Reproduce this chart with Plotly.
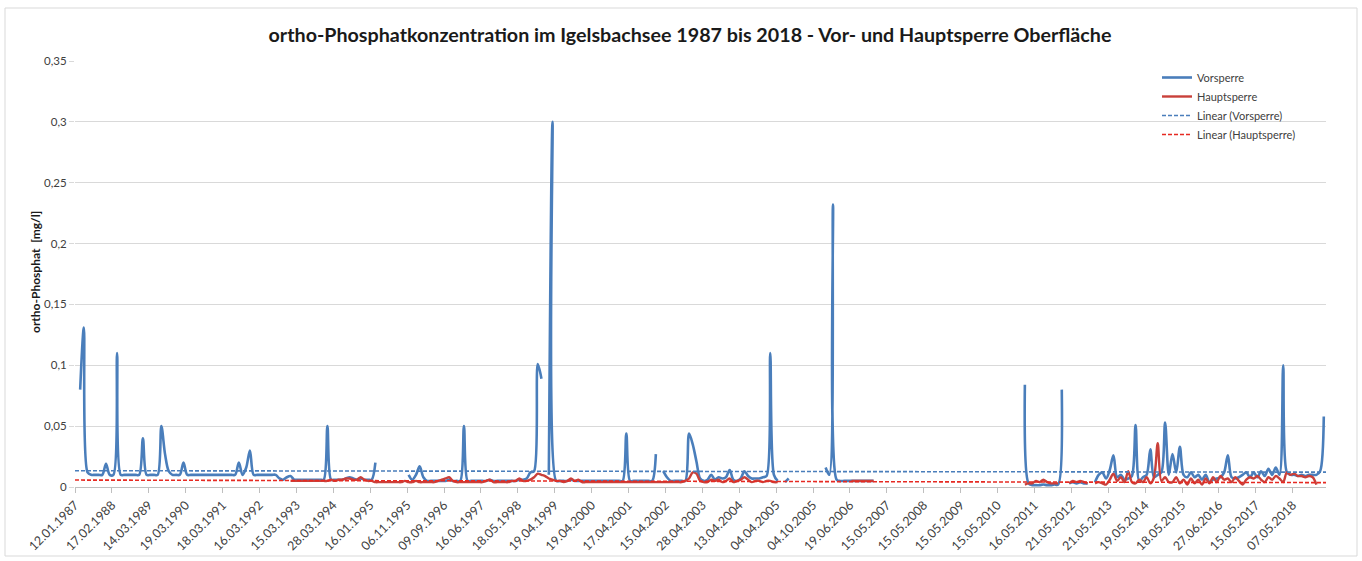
import plotly.graph_objects as go

# ---- data ----
tick_labels = ["12.01.1987", "17.02.1988", "14.03.1989", "19.03.1990", "18.03.1991",
               "16.03.1992", "15.03.1993", "28.03.1994", "16.01.1995", "06.11.1995",
               "09.09.1996", "16.06.1997", "18.05.1998", "19.04.1999", "19.04.2000",
               "17.04.2001", "15.04.2002", "28.04.2003", "13.04.2004", "04.04.2005",
               "04.10.2005", "19.06.2006", "15.05.2007", "15.05.2008", "15.05.2009",
               "15.05.2010", "16.05.2011", "21.05.2012", "21.05.2013", "19.05.2014",
               "18.05.2015", "27.06.2016", "15.05.2017", "07.05.2018"]
samples_per_label = 10

N = None
vorsperre = [
    0.08, 0.131, 0.012, 0.01, 0.01, 0.01, 0.01, 0.019, 0.01, 0.01,
    0.11, 0.01, 0.01, 0.01, 0.01, 0.01, 0.01, 0.04, 0.01, 0.01,
    0.01, 0.01, 0.05, 0.027, 0.013, 0.01, 0.01, 0.01, 0.02, 0.01,
    0.01, 0.01, 0.01, 0.01, 0.01, 0.01, 0.01, 0.01, 0.01, 0.01,
    0.01, 0.01, 0.01, 0.02, 0.01, 0.016, 0.03, 0.01, 0.01, 0.01,
    0.01, 0.01, 0.01, 0.01, 0.007, 0.006, 0.008, 0.009, 0.006, 0.006,
    0.006, 0.006, 0.006, 0.006, 0.006, 0.006, 0.006, 0.05, 0.006, 0.006,
    0.006, 0.006, 0.007, 0.008, 0.007, 0.006, 0.007, 0.006, 0.006, 0.006,
    0.02, N, N, N, N, N, N, N, N, 0.01,
    0.006, 0.01, 0.017, 0.008, 0.005, 0.005, 0.005, 0.005, 0.005, 0.005,
    0.006, 0.005, 0.005, 0.005, 0.05, 0.005, 0.005, 0.005, 0.005, 0.005,
    0.005, 0.006, 0.005, 0.005, 0.005, 0.005, 0.005, 0.005, 0.005, 0.006,
    0.006, 0.007, 0.012, 0.013, 0.101, 0.089, N, 0.01, 0.3, 0.005,
    0.005, 0.005, 0.005, 0.006, 0.005, 0.005, 0.005, 0.005, 0.005, 0.005,
    0.005, 0.005, 0.005, 0.005, 0.005, 0.005, 0.005, 0.005, 0.044, 0.005,
    0.005, 0.005, 0.005, 0.005, 0.005, 0.005, 0.027, N, 0.013, 0.008,
    0.005, 0.005, 0.005, 0.005, 0.005, 0.044, 0.035, 0.021, 0.007, 0.005,
    0.006, 0.01, 0.006, 0.008, 0.007, 0.008, 0.014, 0.006, 0.005, 0.007,
    0.013, 0.009, 0.007, 0.007, 0.007, 0.008, 0.009, 0.11, 0.01, 0.005,
    N, 0.004, 0.007, N, N, N, N, N, N, N,
    N, N, 0.016, 0.01, 0.232, 0.006, 0.005, 0.005, 0.005, 0.005,
    0.005, 0.005, 0.005, 0.005, 0.005, 0.005, N, N, N, N,
    N, N, N, N, N, N, N, N, N, N,
    N, N, N, N, N, N, N, N, N, N,
    N, N, N, N, N, N, N, N, N, N,
    N, N, N, N, N, N, 0.084, 0.003, 0.0015, 0.0015,
    0.0015, 0.002, 0.0015, 0.0015, 0.002, 0.002, 0.08, N, 0.003, 0.004,
    0.003, 0.004, 0.003, 0.003, N, 0.004, 0.01, 0.012, 0.007, 0.014,
    0.026, 0.008, 0.01, 0.006, 0.007, 0.009, 0.051, 0.005, 0.008, 0.01,
    0.031, 0.008, 0.01, 0.012, 0.053, 0.01, 0.027, 0.012, 0.033, 0.01,
    0.008, 0.012, 0.008, 0.01, 0.006, 0.01, 0.004, 0.006, 0.007, 0.008,
    0.012, 0.026, 0.008, 0.007, 0.008, 0.01, 0.012, 0.008, 0.012, 0.008,
    0.013, 0.009, 0.015, 0.01, 0.016, 0.01, 0.1, 0.012, 0.01, 0.01,
    0.009, 0.01, 0.009, 0.01, 0.01, 0.01, 0.013, 0.058,
]

hauptsperre = [
    N, N, N, N, N, N, N, N, N, N,
    N, N, N, N, N, N, N, N, N, N,
    N, N, N, N, N, N, N, N, N, N,
    N, N, N, N, N, N, N, N, N, N,
    N, N, N, N, N, N, N, N, N, N,
    N, N, N, N, N, N, N, 0.005, 0.005, 0.005,
    0.005, 0.005, 0.005, 0.005, 0.005, 0.005, 0.005, 0.005, 0.006, 0.005,
    0.006, 0.006, 0.007, 0.007, 0.006, 0.006, 0.008, 0.006, 0.005, 0.005,
    0.004, 0.004, 0.004, 0.004, 0.004, 0.004, 0.004, 0.004, 0.005, 0.004,
    0.004, 0.005, 0.004, 0.004, 0.004, 0.004, 0.004, 0.005, 0.006, 0.007,
    0.008, 0.005, 0.004, 0.004, 0.004, 0.004, 0.004, 0.004, 0.004, 0.004,
    0.005, 0.006, 0.004, 0.004, 0.004, 0.004, 0.004, 0.005, 0.005, 0.007,
    0.005, 0.005, 0.006, 0.008, 0.011, 0.010, 0.009, 0.007, 0.006, 0.005,
    0.005, 0.004, 0.005, 0.007, 0.005, 0.006, 0.004, 0.004, 0.004, 0.004,
    0.004, 0.004, 0.004, 0.004, 0.004, 0.004, 0.004, 0.004, 0.004, 0.004,
    0.004, 0.004, 0.004, 0.004, 0.004, 0.004, 0.004, 0.004, 0.004, 0.004,
    0.004, 0.004, 0.004, 0.004, 0.005, 0.007, 0.012, 0.011, 0.005, 0.004,
    0.004, 0.006, 0.005, 0.006, 0.004, 0.005, 0.007, 0.004, 0.005, 0.006,
    0.008, 0.006, 0.004, 0.005, 0.005, 0.004, 0.005, 0.005, 0.004, 0.004,
    N, N, N, N, N, N, N, N, N, N,
    N, N, N, N, N, N, N, N, N, 0.005,
    0.005, 0.005, 0.005, 0.005, 0.005, 0.005, N, N, N, N,
    N, N, N, N, N, N, N, N, N, N,
    N, N, N, N, N, N, N, N, N, N,
    N, N, N, N, N, N, N, N, N, N,
    N, N, N, N, N, N, 0.002, 0.003, 0.003, 0.005,
    0.004, 0.006, 0.004, 0.003, 0.003, 0.003, N, N, 0.003, 0.005,
    0.004, 0.005, 0.004, 0.003, N, 0.003, 0.004, 0.003, 0.002, 0.006,
    0.011, 0.005, 0.008, 0.004, 0.013, 0.004, 0.003, 0.006, 0.004, 0.008,
    0.003, 0.008, 0.036, 0.005, 0.008, 0.004, 0.004, 0.008, 0.003, 0.006,
    0.002, 0.007, 0.003, 0.006, 0.002, 0.007, 0.003, 0.008, 0.004, 0.009,
    0.006, 0.007, 0.004, 0.008, 0.005, 0.002, 0.006, 0.008, 0.007, 0.009,
    0.006, 0.004, 0.008, 0.006, 0.009, 0.007, 0.004, 0.012, 0.01, 0.011,
    0.009, 0.009, 0.008, 0.009, 0.008, 0.002, N, N,
]

# linear trend lines (start / end values)
trend_vorsperre = [0.0134, 0.0122]
trend_hauptsperre = [0.0057, 0.0036]

y_ticks = [0, 0.05, 0.1, 0.15, 0.2, 0.25, 0.3, 0.35]
y_tick_text = ["0", "0,05", "0,1", "0,15", "0,2", "0,25", "0,3", "0,35"]

# ---- figure ----
n = len(vorsperre)
idx = list(range(n))
x_lo, x_hi = -1.4, n - 0.4
tick_pos = [k * samples_per_label + x_lo for k in range(len(tick_labels))]

FONT = "Lato"
BLUE = "#4a7ebb"
RED = "#c9403a"
RED_D = "#e62a22"

fig = go.Figure()
fig.add_trace(go.Scatter(x=idx, y=vorsperre, mode="lines", name="Vorsperre",
                         line=dict(color=BLUE, width=2.6, shape="spline", smoothing=0.9)))
fig.add_trace(go.Scatter(x=idx, y=hauptsperre, mode="lines", name="Hauptsperre",
                         line=dict(color=RED, width=2.4, shape="spline", smoothing=0.9)))
fig.add_trace(go.Scatter(x=[x_lo, x_hi], y=trend_vorsperre, mode="lines",
                         name="Linear (Vorsperre)",
                         line=dict(color=BLUE, width=1.6, dash="4px,2px")))
fig.add_trace(go.Scatter(x=[x_lo, x_hi], y=trend_hauptsperre, mode="lines",
                         name="Linear (Hauptsperre)",
                         line=dict(color=RED_D, width=1.6, dash="4px,2px")))

W, H = 1362, 561
ml, mr, mt, mb = 75, 36, 61, 74
pw, ph = W - ml - mr, H - mt - mb

def px_x(p):
    return (p - ml) / pw

def px_y(p):
    return (H - mb - p) / ph

fig.update_layout(
    width=W, height=H,
    margin=dict(l=ml, r=mr, t=mt, b=mb, autoexpand=False),
    paper_bgcolor="white", plot_bgcolor="white",
    font=dict(family=FONT, size=11, color="#404040"),
    title=dict(text="<b>ortho-Phosphatkonzentration im Igelsbachsee 1987 bis 2018 - Vor- und Hauptsperre Oberfläche</b>",
               x=690 / W, xanchor="center", y=1 - 35 / H, yanchor="middle",
               font=dict(family=FONT, size=19.7, color="#1a1a1a")),
    showlegend=True,
    legend=dict(x=px_x(1157), y=px_y(63), xanchor="left", yanchor="top",
                bgcolor="rgba(0,0,0,0)", font=dict(family=FONT, size=11, color="#404040"),
                tracegroupgap=0),
    xaxis=dict(range=[x_lo, x_hi], tickmode="array", tickvals=tick_pos, ticktext=tick_labels,
               tickangle=-45, showgrid=False, zeroline=False, showline=True, automargin=False,
               linecolor="#bfbfbf", linewidth=1, ticks="outside", ticklen=5,
               tickcolor="#bfbfbf", tickfont=dict(family=FONT, size=12.5, color="#404040")),
    yaxis=dict(range=[0, 0.35], tickmode="array", tickvals=y_ticks, ticktext=y_tick_text,
               showgrid=True, gridcolor="#d9d9d9", gridwidth=1, zeroline=False, automargin=False,
               showline=False, ticks="outside", ticklen=5, tickcolor="#d9d9d9",
               tickfont=dict(family=FONT, size=11.5, color="#404040")),
    annotations=[dict(text="<b>ortho-Phosphat  [mg/l]</b>", textangle=-90,
                      xref="paper", yref="paper", x=px_x(35), y=px_y(272),
                      xanchor="center", yanchor="middle", showarrow=False,
                      font=dict(family=FONT, size=12, color="#1a1a1a"))],
    shapes=[dict(type="rect", xref="paper", yref="paper", layer="below",
                 x0=px_x(5), x1=px_x(1357), y0=px_y(556), y1=px_y(8),
                 line=dict(color="#d9d9d9", width=1))],
)

fig.write_html("out.html", config={"displayModeBar": False},
               post_script="document.body.style.margin='0px';")
